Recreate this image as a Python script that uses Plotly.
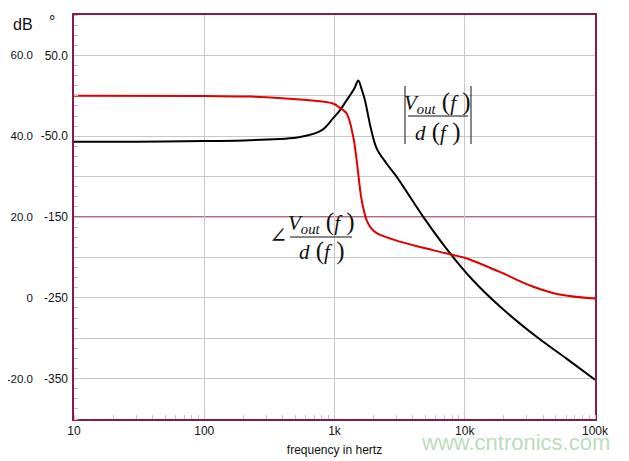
import plotly.graph_objects as go

# ---- data ----
mag_freq = [10, 30, 100, 225, 544, 800, 973, 1100, 1240, 1420, 1521, 1620, 1713, 1900, 2106, 2500, 2996,
            4787, 7674, 11514, 18540, 35400, 60100, 100000]
mag_db = [38.6, 38.6, 38.8, 39.0, 39.8, 41.5, 44.4, 46.4, 48.9, 51.8, 53.8, 51.5, 48.9, 42.0, 37.0, 33.3, 30.0,
          20.1, 11.1, 4.4, -2.1, -9.6, -15.0, -20.3]

phase_freq = [10, 100, 225, 544, 973, 1100, 1240, 1393, 1480, 1616, 1765, 1900, 2106, 3177,
              5690, 8130, 10000, 18540, 33200, 53500, 100000]
phase_deg = [0, -0.4, -1.0, -4.7, -9.6, -15, -22, -51, -80, -129, -154, -163.6, -170, -180.5,
             -191, -197, -200.5, -218, -236, -246, -251]

x_tickvals = [10, 100, 1000, 10000, 100000]
x_ticktext = ["10", "100", "1k", "10k", "100k"]
db_tickvals = [60, 40, 20, 0, -20]
db_ticktext = ["60.0", "40.0", "20.0", "0", "-20.0"]
deg_tickvals = [50, -50, -150, -250, -350]
deg_ticktext = ["50.0", "-50.0", "-150", "-250", "-350"]

# target screen geometry (the page body adds an 8px offset)
SCREEN_W, SCREEN_H, OFF = 629, 461, 8
W, H = SCREEN_W - OFF, SCREEN_H - OFF
L, R, T, B = 74, 595, 15, 419   # plot edges on screen
BORDER = "#861c4c"

def px(x):
    return (x - L) / (R - L)

def py(y):
    return 1 - (y - T) / (B - T)

fig = go.Figure()
fig.add_trace(go.Scatter(x=mag_freq, y=mag_db, mode="lines", yaxis="y",
                         line=dict(color="black", width=2, shape="spline", smoothing=1.0),
                         showlegend=False, hoverinfo="skip"))
fig.add_trace(go.Scatter(x=phase_freq, y=phase_deg, mode="lines", yaxis="y2",
                         line=dict(color="#e00000", width=2, shape="spline", smoothing=1.0),
                         showlegend=False, hoverinfo="skip"))

tickfont = dict(family="Liberation Sans, Arial", size=12, color="#111111")
dbfont = dict(family="Liberation Sans, Arial", size=11.5, color="#111111")

fig.update_layout(
    width=W, height=H,
    margin=dict(l=L - OFF, r=SCREEN_W - R, t=T - OFF, b=SCREEN_H - B, pad=0, autoexpand=False),
    paper_bgcolor="white", plot_bgcolor="white",
    xaxis=dict(type="log", range=[1, 5], tickvals=x_tickvals, ticktext=x_ticktext,
               showgrid=True, gridcolor="#c8c8c8", gridwidth=1,
               showline=True, linecolor=BORDER, linewidth=1.5, mirror=True,
               ticks="", tickfont=tickfont, ticklabelstandoff=0, automargin=False,
               minor=dict(ticks="inside", ticklen=4, tickcolor="#e2b2cc", dtick="D1", showgrid=False),
               title=dict(text="frequency in hertz", font=dict(family="Liberation Sans, Arial", size=12, color="#111111"),
                          standoff=8),
               zeroline=False),
    yaxis=dict(range=[-30, 70], tickvals=db_tickvals, ticktext=db_ticktext,
               showgrid=False, zeroline=False, automargin=False,
               showline=True, linecolor=BORDER, linewidth=1.5, mirror=True,
               ticks="", tickfont=dbfont, ticklabelstandoff=37,
               minor=dict(ticks="inside", ticklen=4, tickcolor="#e2b2cc", dtick=2.5, showgrid=False)),
    yaxis2=dict(range=[-400, 100], overlaying="y", side="left", anchor="x",
                tickvals=deg_tickvals, ticktext=deg_ticktext, automargin=False,
                showgrid=True, gridcolor="#c8c8c8", gridwidth=1, zeroline=False,
                ticks="", tickfont=tickfont, ticklabelstandoff=5, showline=False,
                minor=dict(dtick=50, tick0=0, showgrid=True, gridcolor="#c8c8c8", ticks="")),
)

# 20 dB reference line
fig.add_shape(type="line", xref="x domain", x0=0, x1=1, yref="y", y0=20, y1=20,
              line=dict(color="#b02a5e", width=1.5), layer="below")

math_font = dict(family="Liberation Serif, Times New Roman", size=21, color="#111111")
num_txt = "<i>V</i><sub><i>out</i></sub><span style='font-size:25px'> (</span><i>f</i><span style='font-size:25px'> )</span>"
den_txt = "<i>d</i><span style='font-size:25px'> (</span><i>f</i><span style='font-size:25px'> )</span>"

# magnitude label
fig.add_annotation(x=px(437), y=py(103), xref="paper", yref="paper", text=num_txt,
                   showarrow=False, font=math_font, xanchor="center", yanchor="middle")
fig.add_annotation(x=px(438), y=py(132), xref="paper", yref="paper", text=den_txt,
                   showarrow=False, font=math_font, xanchor="center", yanchor="middle")
fig.add_shape(type="line", xref="paper", yref="paper", x0=px(408), x1=px(468), y0=py(116), y1=py(116),
              line=dict(color="#111111", width=1))
fig.add_shape(type="line", xref="paper", yref="paper", x0=px(405), x1=px(405), y0=py(86), y1=py(144),
              line=dict(color="#111111", width=1))
fig.add_shape(type="line", xref="paper", yref="paper", x0=px(471), x1=px(471), y0=py(86), y1=py(144),
              line=dict(color="#111111", width=1))

# phase label
fig.add_annotation(x=px(321), y=py(222), xref="paper", yref="paper", text=num_txt,
                   showarrow=False, font=math_font, xanchor="center", yanchor="middle")
fig.add_annotation(x=px(322), y=py(251), xref="paper", yref="paper", text=den_txt,
                   showarrow=False, font=math_font, xanchor="center", yanchor="middle")
fig.add_shape(type="line", xref="paper", yref="paper", x0=px(290), x1=px(352), y0=py(237), y1=py(237),
              line=dict(color="#111111", width=1))
fig.add_annotation(x=px(278), y=py(235), xref="paper", yref="paper", text="∠",
                   showarrow=False, font=dict(family="DejaVu Serif", size=22, color="#111111"),
                   xanchor="center", yanchor="middle")

# axis headers
fig.add_annotation(x=px(23), y=py(24), xref="paper", yref="paper", text="dB", showarrow=False,
                   font=dict(family="Liberation Sans, Arial", size=16, color="#111111"),
                   xanchor="center", yanchor="middle")
fig.add_annotation(x=px(52), y=py(21), xref="paper", yref="paper", text="°", showarrow=False,
                   font=dict(family="Liberation Sans, Arial", size=16, color="#111111"),
                   xanchor="center", yanchor="middle")

# watermark
fig.add_annotation(x=px(515), y=py(442), xref="paper", yref="paper", text="www.cntronics.com",
                   showarrow=False, font=dict(family="Liberation Sans, Arial", size=22, color="#bcdcbc"),
                   xanchor="center", yanchor="middle")

fig.write_html("out.html")
